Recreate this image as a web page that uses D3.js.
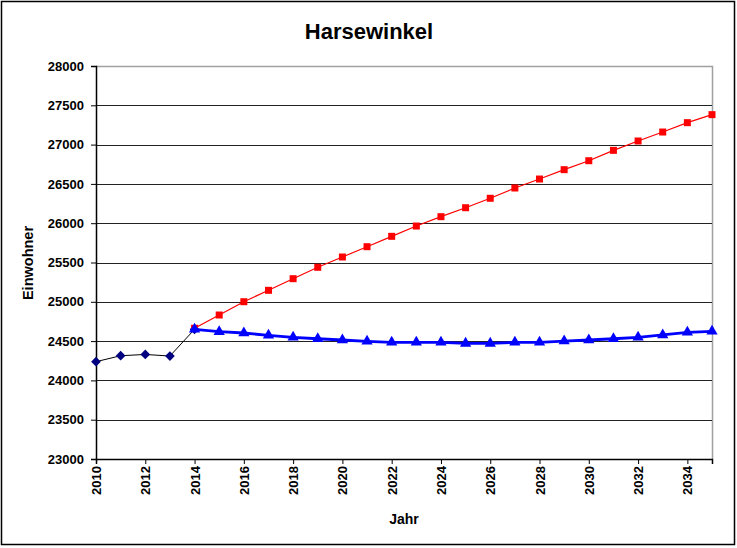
<!DOCTYPE html>
<html>
<head>
<meta charset="utf-8">
<script src="https://cdn.jsdelivr.net/npm/d3@7"></script>
<style>
  body { margin: 0; background: #fff; }
  text { font-family: "Liberation Sans", Arial, sans-serif; font-weight: bold; }
</style>
</head>
<body>
<svg id="chart"></svg>
<script>
// Werte
const yearsPast = [2010, 2011, 2012, 2013, 2014];
const valuesPast = [24238, 24314, 24330, 24310, 24650];

const yearsForecast = [2014, 2015, 2016, 2017, 2018, 2019, 2020, 2021, 2022, 2023, 2024,
  2025, 2026, 2027, 2028, 2029, 2030, 2031, 2032, 2033, 2034, 2035];
const valuesRed = [24663, 24832, 25001, 25146, 25294, 25439, 25570, 25701, 25833, 25964, 26083,
  26197, 26317, 26448, 26562, 26681, 26795, 26927, 27046, 27160, 27279, 27381];
const valuesBlue = [24650, 24620, 24603, 24573, 24548, 24530, 24514, 24497, 24484, 24484, 24484,
  24471, 24471, 24484, 24484, 24500, 24514, 24530, 24548, 24578, 24612, 24625];

const yTicks = [23000, 23500, 24000, 24500, 25000, 25500, 26000, 26500, 27000, 27500, 28000];
const xTicks = [2010, 2012, 2014, 2016, 2018, 2020, 2022, 2024, 2026, 2028, 2030, 2032, 2034];

const width = 737, height = 548;
const margin = { left: 96, right: 25, top: 66, bottom: 89 };

const svg = d3.select('#chart')
  .attr('width', width)
  .attr('height', height);

// Rahmen
svg.append('rect')
  .attr('x', 1.5).attr('y', 1.5)
  .attr('width', 733).attr('height', 543)
  .attr('fill', '#fff')
  .attr('stroke', '#000')
  .attr('stroke-width', 1.5);

const x = d3.scaleLinear().domain([2010, 2035]).range([margin.left, width - margin.right]);
const y = d3.scaleLinear().domain([23000, 28000]).range([height - margin.bottom, margin.top]);

// Plotbereich-Rand (oben, rechts grau)
svg.append('path')
  .attr('d', `M${x(2010)},${y(28000) + 0.5}H${x(2035) + 0.5}V${y(23000)}`)
  .attr('fill', 'none')
  .attr('stroke', '#a0a0a0')
  .attr('stroke-width', 1.5);

// Gitterlinien
svg.append('g')
  .selectAll('line')
  .data(yTicks.filter(d => d > 23000 && d < 28000))
  .join('line')
  .attr('x1', x(2010)).attr('x2', x(2035))
  .attr('y1', d => Math.round(y(d)) + 0.5).attr('y2', d => Math.round(y(d)) + 0.5)
  .attr('stroke', '#222')
  .attr('stroke-width', 1);

// Achsen
const yAxis = svg.append('g')
  .attr('transform', `translate(${x(2010)},0)`)
  .call(d3.axisLeft(y).tickValues(yTicks).tickSize(5).tickPadding(7).tickFormat(d3.format('d')));
const xAxis = svg.append('g')
  .attr('transform', `translate(0,${y(23000)})`)
  .call(d3.axisBottom(x).tickValues(xTicks).tickSize(5).tickFormat(d3.format('d')));

[yAxis, xAxis].forEach(a => {
  a.select('.domain').attr('stroke', '#000').attr('stroke-width', 1.5);
  a.selectAll('.tick line').attr('stroke', '#000');
  a.selectAll('text').attr('fill', '#000').style('font-size', '13px')
    .style('font-family', '"Liberation Sans", Arial, sans-serif').style('font-weight', 'bold');
});

xAxis.selectAll('text')
  .attr('transform', 'rotate(-90)')
  .attr('text-anchor', 'end')
  .attr('x', -7)
  .attr('y', 0)
  .attr('dy', '0.35em');

// Titel
svg.append('text')
  .attr('x', 369).attr('y', 39)
  .attr('text-anchor', 'middle')
  .style('font-size', '22px')
  .text('Harsewinkel');

svg.append('text')
  .attr('x', 404).attr('y', 524)
  .attr('text-anchor', 'middle')
  .style('font-size', '14px')
  .text('Jahr');

svg.append('text')
  .attr('transform', `translate(33,263) rotate(-90)`)
  .attr('text-anchor', 'middle')
  .style('font-size', '14.5px')
  .text('Einwohner');

// Linien
const line = d3.line().x(d => x(d[0])).y(d => y(d[1]));

function drawSeries(years, values, color, lineWidth, symbol, symSize, symColor) {
  const pts = years.map((yr, i) => [yr, values[i]]);
  svg.append('path')
    .datum(pts)
    .attr('d', line)
    .attr('fill', 'none')
    .attr('stroke', color)
    .attr('stroke-width', lineWidth);
  svg.append('g')
    .selectAll('path')
    .data(pts)
    .join('path')
    .attr('transform', d => `translate(${x(d[0])},${y(d[1])})`)
    .attr('d', d3.symbol().type(symbol).size(symSize))
    .attr('fill', symColor);
}

drawSeries(yearsPast, valuesPast, '#000', 1, d3.symbolDiamond2, 60, '#000080');
drawSeries(yearsForecast, valuesRed, '#ff0000', 1.2, d3.symbolSquare, 49, '#ff0000');
drawSeries(yearsForecast, valuesBlue, '#0000ff', 2.8, d3.symbolTriangle, 55, '#0000ff');
</script>
</body>
</html>
